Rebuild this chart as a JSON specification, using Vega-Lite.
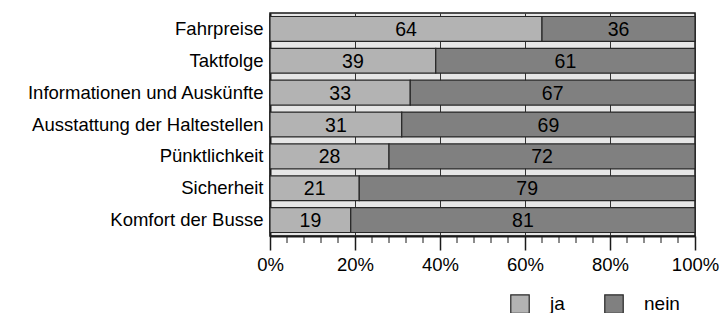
{
  "$schema": "https://vega.github.io/schema/vega-lite/v6.json",
  "autosize": "none",
  "padding": {"left": 270, "top": 13, "right": 27, "bottom": 77},
  "width": 425,
  "height": 223,
  "background": "white",
  "config": {
    "font": "Liberation Sans",
    "view": {"fill": "#e6e6e6", "stroke": "#1a1a1a", "strokeWidth": 1.5}
  },
  "data": {
    "values": [
      {"item": "Fahrpreise", "answer": "ja", "value": 64},
      {"item": "Fahrpreise", "answer": "nein", "value": 36},
      {"item": "Taktfolge", "answer": "ja", "value": 39},
      {"item": "Taktfolge", "answer": "nein", "value": 61},
      {"item": "Informationen und Auskünfte", "answer": "ja", "value": 33},
      {"item": "Informationen und Auskünfte", "answer": "nein", "value": 67},
      {"item": "Ausstattung der Haltestellen", "answer": "ja", "value": 31},
      {"item": "Ausstattung der Haltestellen", "answer": "nein", "value": 69},
      {"item": "Pünktlichkeit", "answer": "ja", "value": 28},
      {"item": "Pünktlichkeit", "answer": "nein", "value": 72},
      {"item": "Sicherheit", "answer": "ja", "value": 21},
      {"item": "Sicherheit", "answer": "nein", "value": 79},
      {"item": "Komfort der Busse", "answer": "ja", "value": 19},
      {"item": "Komfort der Busse", "answer": "nein", "value": 81}
    ]
  },
  "encoding": {
    "y": {
      "field": "item",
      "type": "nominal",
      "sort": null,
      "scale": {"paddingInner": 0.22, "paddingOuter": 0.11},
      "axis": {
        "title": null,
        "labelFontSize": 18.5,
        "labelColor": "#000",
        "labelPadding": 7,
        "ticks": false,
        "domainColor": "#1a1a1a",
        "domainWidth": 2,
        "labelLimit": 300
      }
    }
  },
  "layer": [
    {
      "mark": {"type": "bar", "stroke": "#262626", "strokeWidth": 1.2},
      "encoding": {
        "x": {
          "field": "value",
          "type": "quantitative",
          "stack": "normalize",
          "scale": {"domain": [0, 1], "nice": false},
          "axis": {
            "title": null,
            "format": "%",
            "values": [0, 0.2, 0.4, 0.6, 0.8, 1],
            "labelFontSize": 18.5,
            "labelColor": "#000",
            "labelPadding": 5,
            "tickSize": 14,
            "tickColor": "#1a1a1a",
            "tickWidth": 1.5,
            "domainColor": "#1a1a1a",
            "domainWidth": 2,
            "grid": true,
            "gridColor": "#333333",
            "gridWidth": 1,
            "labelFlush": false
          }
        },
        "color": {
          "field": "answer",
          "type": "nominal",
          "scale": {"domain": ["ja", "nein"], "range": ["#b3b3b3", "#808080"]},
          "legend": {
            "title": null,
            "orient": "none",
            "direction": "horizontal",
            "legendX": 240,
            "legendY": 281,
            "symbolType": "square",
            "symbolSize": 340,
            "symbolStrokeColor": "#262626",
            "symbolStrokeWidth": 1.2,
            "symbolOpacity": 1,
            "labelFontSize": 19,
            "labelColor": "#000",
            "labelOffset": 20,
            "columnPadding": 37,
            "padding": 0
          }
        },
        "order": {"field": "answer"}
      }
    },
    {
      "mark": {"type": "rule", "color": "#1a1a1a", "strokeWidth": 1},
      "data": {"values": [
        {"t": 0.04}, {"t": 0.08}, {"t": 0.12}, {"t": 0.16},
        {"t": 0.24}, {"t": 0.28}, {"t": 0.32}, {"t": 0.36},
        {"t": 0.44}, {"t": 0.48}, {"t": 0.52}, {"t": 0.56},
        {"t": 0.64}, {"t": 0.68}, {"t": 0.72}, {"t": 0.76},
        {"t": 0.84}, {"t": 0.88}, {"t": 0.92}, {"t": 0.96}
      ]},
      "encoding": {
        "x": {"field": "t", "type": "quantitative"},
        "y": {"value": 223},
        "y2": {"value": 230}
      }
    },
    {
      "mark": {"type": "text", "fontSize": 19.5, "color": "#000", "baseline": "middle", "align": "center", "dy": 1},
      "encoding": {
        "x": {"field": "value", "type": "quantitative", "stack": "normalize", "bandPosition": 0.5},
        "text": {"field": "value", "type": "quantitative"},
        "detail": {"field": "answer"},
        "order": {"field": "answer"}
      }
    }
  ]
}
